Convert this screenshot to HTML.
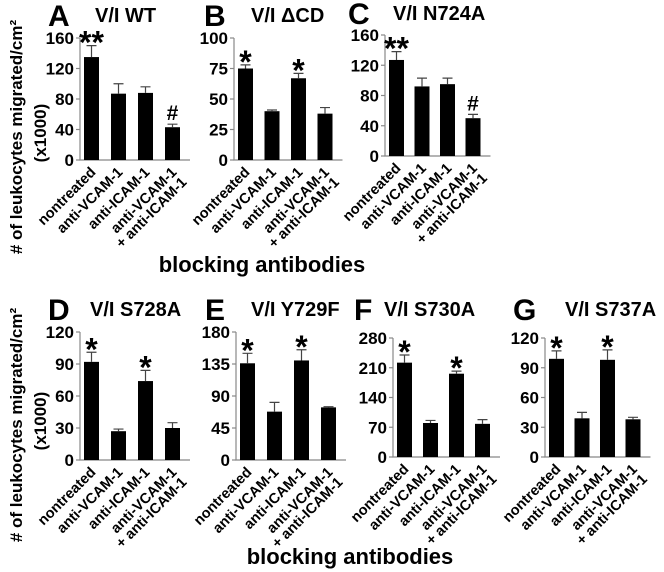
<!DOCTYPE html>
<html><head><meta charset="utf-8"><style>
html,body{margin:0;padding:0;background:#fff;}
svg{display:block;font-family:"Liberation Sans",Arial,sans-serif;font-weight:bold;}
</style></head><body>
<svg id="fig" width="664" height="572" viewBox="0 0 664 572">
<text x="22" y="137" font-size="17" text-anchor="middle" transform="rotate(-90 22 137)"># of leukocytes migrated/cm²</text>
<text x="46" y="133" font-size="17" text-anchor="middle" transform="rotate(-90 46 133)">(x1000)</text>
<text x="262" y="272" font-size="22" text-anchor="middle">blocking antibodies</text>
<text x="22" y="425" font-size="17" text-anchor="middle" transform="rotate(-90 22 425)"># of leukocytes migrated/cm²</text>
<text x="46" y="421" font-size="17" text-anchor="middle" transform="rotate(-90 46 421)">(x1000)</text>
<text x="350" y="564" font-size="22" text-anchor="middle">blocking antibodies</text>
</svg>
<script>
const categories=["nontreated","anti-VCAM-1","anti-ICAM-1","anti-VCAM-1|+ anti-ICAM-1"];
const valuesA=[135,87,88,43], errA=[15,13,8,4], marksA=["**","","","#"], ticksA=[0,40,80,120,160];
const valuesB=[75,40,67,38], errB=[3,1,4,5], marksB=["*","","*",""], ticksB=[0,25,50,75,100];
const valuesC=[127,92,95,50], errC=[11,11,8,5], marksC=["**","","","#"], ticksC=[0,40,80,120,160];
const valuesD=[92,27,74,30], errD=[9,2,10,5], marksD=["*","","*",""], ticksD=[0,30,60,90,120];
const valuesE=[136,68,140,74], errE=[14,13,15,1], marksE=["*","","*",""], ticksE=[0,45,90,135,180];
const valuesF=[222,80,196,78], errF=[18,6,6,10], marksF=["*","","*",""], ticksF=[0,70,140,210,280];
const valuesG=[99,39,98,38], errG=[8,6,10,2], marksG=["*","","*",""], ticksG=[0,30,60,90,120];
const svg=document.getElementById('fig');
const NS="http://www.w3.org/2000/svg";
function mk(tag,attrs,parent){const e=document.createElementNS(NS,tag);for(const k in attrs)e.setAttribute(k,attrs[k]);(parent||svg).appendChild(e);return e;}
function panel(id,letter,title,ax,y0,yTop,vals,errs,marks,ticks,step,lx0,tx,ly){
  const g=mk('g',{});
  
  
  const max=ticks[ticks.length-1];
  const y=v=>y0-(v/max)*(y0-yTop);
  const bw=15;
  const bx=i=>ax+4+i*step;
  const L=mk('text',{x:lx0,y:ly+2,'font-size':30},g);L.textContent=letter;
  
  
  const T=mk('text',{x:tx,y:ly-2,'font-size':20},g);T.textContent=title;
  
  
  const axl=mk('path',{d:`M${ax} ${yTop} V${y0} H${bx(3)+bw+10}`,stroke:'#888','stroke-width':1.2,fill:'none'},g);
  
  
  ticks.forEach(t=>{
    mk('line',{x1:ax-4,x2:ax,y1:y(t),y2:y(t),stroke:'#888','stroke-width':1.2},g);
    const tt=mk('text',{x:ax-6,y:y(t)+6,'font-size':17,'text-anchor':'end'},g);tt.textContent=t;
    
    
  });
  vals.forEach((v,i)=>{
    const cx=bx(i)+bw/2, top=y(v), et=y(v+errs[i]);
    const r=mk('rect',{x:bx(i),y:top,width:bw,height:y0-top,fill:'#000'},g);
    
    
    const eb=mk('path',{d:`M${cx} ${top} V${et} M${cx-5} ${et} H${cx+5}`,stroke:'#444','stroke-width':1.2},g);
    
    
    if(marks[i]){
      const isStar=marks[i][0]==='*';
      const m=mk('text',{x:cx,y:et-(isStar?-8:4),'font-size':isStar?32:21,'text-anchor':'middle'},g);
      m.textContent=marks[i];
      
      
    }
    const parts=categories[i].split('|');
    parts.forEach((p,j)=>{
      const lx=cx+5+j*10, lyy=y0+13+j*10;
      const lt=mk('text',{x:lx,y:lyy,'font-size':14.5,'text-anchor':'end',transform:`rotate(-45 ${lx} ${lyy})`},g);
      lt.textContent=p;
      
      
    });
  });
}
panel('a','A','V/I WT',80,160,38,valuesA,errA,marksA,ticksA,27,48,95,24);
panel('b','B','V/I \u0394CD',234,160,38,valuesB,errB,marksB,ticksB,26.5,204,251,24);
panel('c','C','V/I N724A',385,156,35,valuesC,errC,marksC,ticksC,25.5,348,393,22);
panel('d','D','V/I S728A',80,460,332,valuesD,errD,marksD,ticksD,27,48,90,318);
panel('e','E','V/I Y729F',236,460,332,valuesE,errE,marksE,ticksE,27,205,251,318);
panel('f','F','V/I S730A',393,457,338,valuesF,errF,marksF,ticksF,26,354,384,318);
panel('g','G','V/I S737A',545,457,338,valuesG,errG,marksG,ticksG,25.5,513,565,318);
</script>
</body></html>
